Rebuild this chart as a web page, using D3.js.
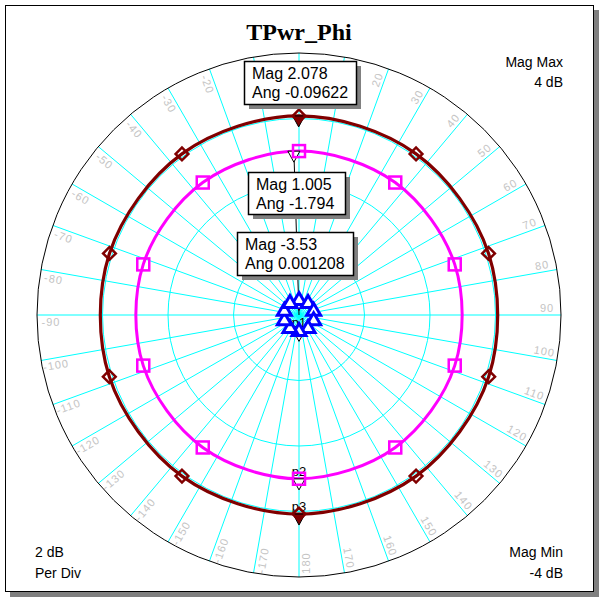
<!DOCTYPE html>
<html>
<head>
<meta charset="utf-8">
<script src="https://cdn.jsdelivr.net/npm/d3@7"></script>
<style>
  body { margin: 0; background: #fff; }
  svg { display: block; }
  .ang { fill: #c4c4c4; font-family: "Liberation Sans", Arial, sans-serif; font-size: 11px; letter-spacing: 1px; }
  .info { font-family: "Liberation Sans", Arial, sans-serif; font-size: 16px; fill: #000; }
  .corner { font-family: "Liberation Sans", Arial, sans-serif; font-size: 14px; fill: #000; }
</style>
</head>
<body>
<div id="chart"></div>
<script>
// magnitude rings (dB) and angle labels (deg)
var magTicks = [-4, -2, 0, 2, 4];
var angleTicks = [0, 10, 20, 30, 40, 50, 60, 70, 80, 90, 100, 110, 120, 130, 140, 150, 160, 170, 180,
                  -170, -160, -150, -140, -130, -120, -110, -100, -90, -80, -70, -60, -50, -40, -30, -20, -10];

// traces sampled where the symbols sit
var traceAng = [0, 36, 72, 108, 144, 180, -144, -108, -72, -36];
var tpwr3 = [2.078, 2.08, 2.085, 2.09, 2.08, 2.078, 2.08, 2.09, 2.085, 2.08];   // dark red, diamonds
var tpwr2 = [1.005, 1.0, 1.0, 1.0, 1.0, 1.0, 1.0, 1.0, 1.0, 1.0];               // magenta, squares
var tpwr1 = [-3.53, -3.53, -3.53, -3.53, -3.53, -3.53, -3.53, -3.53, -3.53, -3.53]; // blue, triangles

// marker readouts
var markMag = [2.078, 1.005, -3.53];
var markAng = [-0.09622, -1.794, 0.001208];
var pMag = [-3.53, 1.005, 2.078];
var pAng = [180, 180, 180];
var pNames = ["p1", "p2", "p3"];

var W = 603, H = 601, cx = 299, cy = 315, R = 262;

var svg = d3.select("#chart").append("svg").attr("width", W).attr("height", H);

// frame with shadow
svg.append("rect").attr("x", 10).attr("y", 10).attr("width", 589).attr("height", 587).attr("fill", "#808080");
svg.append("rect").attr("x", 5.5).attr("y", 5.5).attr("width", 588).attr("height", 586)
   .attr("fill", "#fff").attr("stroke", "#000").attr("stroke-width", 1);

var r = d3.scaleLinear().domain([-4, 4]).range([0, R]);
function px(m, a) { return cx + r(m) * Math.sin(a * Math.PI / 180); }
function py(m, a) { return cy - r(m) * Math.cos(a * Math.PI / 180); }

var g = svg.append("g");

// rings
g.selectAll("circle.ring").data(magTicks.slice(1, -1)).enter().append("circle")
  .attr("cx", cx).attr("cy", cy).attr("r", function(d) { return r(d); })
  .attr("fill", "none").attr("stroke", "#00ffff").attr("stroke-width", 1);

// spokes
g.selectAll("line.spoke").data(angleTicks).enter().append("line")
  .attr("x1", cx).attr("y1", cy)
  .attr("x2", function(d) { return px(4, d); }).attr("y2", function(d) { return py(4, d); })
  .attr("stroke", "#00ffff").attr("stroke-width", 1);

g.append("circle").attr("cx", cx).attr("cy", cy).attr("r", r(4))
  .attr("fill", "none").attr("stroke", "#000").attr("stroke-width", 1);

// angle labels, pushed to the counter-clockwise side of each spoke
g.selectAll("text.ang").data(angleTicks).enter().append("text")
  .attr("class", "ang")
  .attr("text-anchor", "middle").attr("dominant-baseline", "central")
  .attr("transform", function(d) {
    var a = d * Math.PI / 180, rr = 248;
    var x = cx + rr * Math.sin(a) - 7 * Math.cos(a);
    var y = cy - rr * Math.cos(a) - 7 * Math.sin(a);
    var rot = (d > 0 && d < 180) ? d - 90 : d + 90;
    return "translate(" + x + "," + y + ") rotate(" + rot + ")";
  })
  .text(function(d) { return d; });

// traces
var line = d3.lineRadial()
  .angle(function(d) { return d[0] * Math.PI / 180; })
  .radius(function(d) { return r(d[1]); })
  .curve(d3.curveCatmullRomClosed);

var traces = [
  {vals: tpwr1, color: "#0000ff", w: 2},
  {vals: tpwr2, color: "#ff00ff", w: 3},
  {vals: tpwr3, color: "#800000", w: 3.2}
];
traces.forEach(function(t) {
  var pts = traceAng.map(function(a, i) { return [a, t.vals[i]]; });
  g.append("path").attr("transform", "translate(" + cx + "," + cy + ")")
    .attr("d", line(pts)).attr("fill", "none")
    .attr("stroke", t.color).attr("stroke-width", t.w);
});

// radial line to marker 2
g.append("line").attr("x1", cx).attr("y1", cy)
  .attr("x2", px(markMag[1], markAng[1])).attr("y2", py(markMag[1], markAng[1]))
  .attr("stroke", "#000").attr("stroke-width", 1);

// marker triangles (pointing down, top edge on the trace)
function tri(x, y) { return "M" + (x - 6) + "," + y + "L" + (x + 6) + "," + y + "L" + x + "," + (y + 11) + "Z"; }
markMag.forEach(function(m, i) {
  g.append("path").attr("d", tri(px(m, markAng[i]), py(m, markAng[i])))
    .attr("fill", i === 0 ? "#800000" : "#fff").attr("stroke", "#000").attr("stroke-width", 1);
});
pMag.forEach(function(m, i) {
  var x = px(m, pAng[i]), y = py(m, pAng[i]);
  g.append("path").attr("d", tri(x, y))
    .attr("fill", i === 2 ? "#800000" : "#fff").attr("stroke", "#000").attr("stroke-width", 1);
  g.append("text").attr("x", x).attr("y", y - 3).attr("text-anchor", "middle")
    .attr("font-family", "Liberation Sans, Arial, sans-serif").attr("font-size", 13)
    .text(pNames[i]);
});

// trace symbols
g.selectAll("path.tri").data(traceAng).enter().append("path")
  .attr("transform", function(d, i) { return "translate(" + px(tpwr1[i], d) + "," + py(tpwr1[i], d) + ")"; })
  .attr("d", "M0,-7L7,5L-7,5Z")
  .attr("fill", "#fff").attr("stroke", "#0000ff").attr("stroke-width", 3).attr("stroke-linejoin", "miter");

g.selectAll("rect.sq").data(traceAng).enter().append("rect")
  .attr("x", function(d, i) { return px(tpwr2[i], d) - 6; })
  .attr("y", function(d, i) { return py(tpwr2[i], d) - 6; })
  .attr("width", 12).attr("height", 12)
  .attr("fill", "none").attr("stroke", "#ff00ff").attr("stroke-width", 2.5);

g.selectAll("rect.dia").data(traceAng).enter().append("rect")
  .attr("transform", function(d, i) { return "translate(" + px(tpwr3[i], d) + "," + py(tpwr3[i], d) + ") rotate(45)"; })
  .attr("x", -4.5).attr("y", -4.5).attr("width", 9).attr("height", 9)
  .attr("fill", "none").attr("stroke", "#800000").attr("stroke-width", 2.5);

// readout boxes
var boxes = [
  {x: 244, y: 61, w: 112, h: 43, t: 0},
  {x: 248, y: 172, w: 97, h: 42, t: 1},
  {x: 237, y: 232, w: 116, h: 43, t: 2}
];
boxes.forEach(function(b) {
  svg.append("rect").attr("x", b.x + 5).attr("y", b.y + 5).attr("width", b.w).attr("height", b.h).attr("fill", "#808080");
  svg.append("rect").attr("x", b.x + 0.5).attr("y", b.y + 0.5).attr("width", b.w).attr("height", b.h)
    .attr("fill", "#fff").attr("stroke", "#000").attr("stroke-width", 1.5);
  svg.append("text").attr("class", "info").attr("x", b.x + 8).attr("y", b.y + 18).text("Mag " + markMag[b.t]);
  svg.append("text").attr("class", "info").attr("x", b.x + 8).attr("y", b.y + 37).text("Ang " + markAng[b.t]);
});

// title
svg.append("text").attr("x", cx).attr("y", 40).attr("text-anchor", "middle")
  .attr("font-family", "Liberation Serif, Times New Roman, serif").attr("font-weight", "bold").attr("font-size", 24)
  .text("TPwr_Phi");

// corner notes
svg.append("text").attr("class", "corner").attr("x", 563).attr("y", 67).attr("text-anchor", "end").text("Mag Max");
svg.append("text").attr("class", "corner").attr("x", 563).attr("y", 87).attr("text-anchor", "end").text(magTicks[4] + " dB");
svg.append("text").attr("class", "corner").attr("x", 35).attr("y", 557).text((magTicks[1] - magTicks[0]) + " dB");
svg.append("text").attr("class", "corner").attr("x", 35).attr("y", 578).text("Per Div");
svg.append("text").attr("class", "corner").attr("x", 563).attr("y", 557).attr("text-anchor", "end").text("Mag Min");
svg.append("text").attr("class", "corner").attr("x", 563).attr("y", 578).attr("text-anchor", "end").text(magTicks[0] + " dB");
</script>
</body>
</html>
